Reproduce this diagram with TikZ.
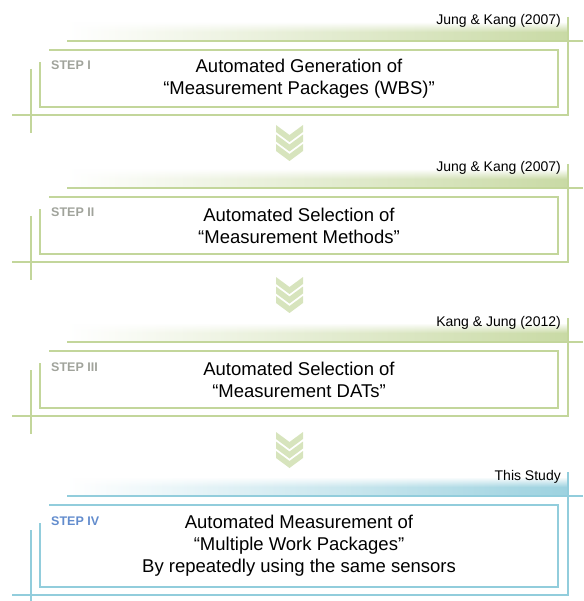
\documentclass[tikz,border=0pt]{standalone}
\usepackage{fontspec}
\setmainfont{Liberation Sans}
\usetikzlibrary{positioning,fadings}

\definecolor{olive}{RGB}{195,214,155}
\definecolor{skyblue}{RGB}{146,205,220}
\definecolor{chevgreen}{RGB}{215,228,189}
\definecolor{stepgray}{RGB}{160,163,155}
\definecolor{stepblue}{RGB}{98,140,205}

\tikzfading[name=topfade, top color=transparent!0, bottom color=transparent!100]

\begin{document}
\begin{tikzpicture}[x=1pt,y=-1pt]
  \tikzstyle{frame} = [line width=1.8pt]
  \tikzstyle{maintext} = [align=center, font=\fontsize{18.5}{22}\selectfont]
  \tikzstyle{source} = [anchor=base east, inner sep=0pt, font=\fontsize{14}{16}\selectfont, text=black]
  \tikzstyle{steplabel} = [anchor=base west, inner sep=0pt, font=\fontsize{12.5}{14}\selectfont\bfseries]
  \tikzstyle{chevron} = [fill=chevgreen]
  \useasboundingbox (0,0) rectangle (583,601);
  % one block per step: rule level / extra height / colours / source / number / text
  \foreach \b/\h/\c/\s/\lab/\num/\txt [count=\i] in {
      41/0/olive/stepgray/{Jung \& Kang (2007)}/I/{Automated Generation of\\“Measurement Packages (WBS)”},
      188/0/olive/stepgray/{Jung \& Kang (2007)}/II/{Automated Selection of\\“Measurement Methods”},
      342/0/olive/stepgray/{Kang \& Jung (2012)}/III/{Automated Selection of\\“Measurement DATs”},
      496/25/skyblue/stepblue/{This Study}/IV/{Automated Measurement of\\“Multiple Work Packages”\\By repeatedly using the same sensors}}{
    \shade[left color=white, middle color=\c!55, right color=\c!90] (67,{\b-18}) rectangle (568,\b);
    \fill[white, path fading=topfade] (66,{\b-19}) rectangle (569,{\b-9});
    \draw[frame,\c] (67,\b) -- (583,\b);
    \draw[frame,\c] (568,{\b-24}) -- (568,{\b+74+\h}) -- (12,{\b+74+\h});
    \draw[frame,\c] (31,{\b+28+\h/4}) -- (31,{min(\b+92+\h,601)});
    \draw[frame,\c] (49,{\b+9}) -- (558,{\b+9}) -- (558,{\b+66+\h}) -- (40,{\b+66+\h}) -- (40,{\b+21+\h/4});
    \node[source] (src\i) at (561,{\b-16}) {\lab};
    \node[steplabel, text=\s] (step\i) at (51,{\b+29}) {STEP \num};
    \node[maintext] (txt\i) at (299,{\b+37.5+\h/2}) {\txt};
  }
  % chevrons between the blocks
  \foreach \y in {125,277,432}{
    \foreach \k in {0,1,2}{
      \fill[chevron] (276,{\y+\k*9.5}) -- (289.5,{\y+\k*9.5+10}) -- (303,{\y+\k*9.5})
        -- (303,{\y+\k*9.5+7}) -- (289.5,{\y+\k*9.5+17}) -- (276,{\y+\k*9.5+7}) -- cycle;
    }
  }
\end{tikzpicture}
\end{document}
